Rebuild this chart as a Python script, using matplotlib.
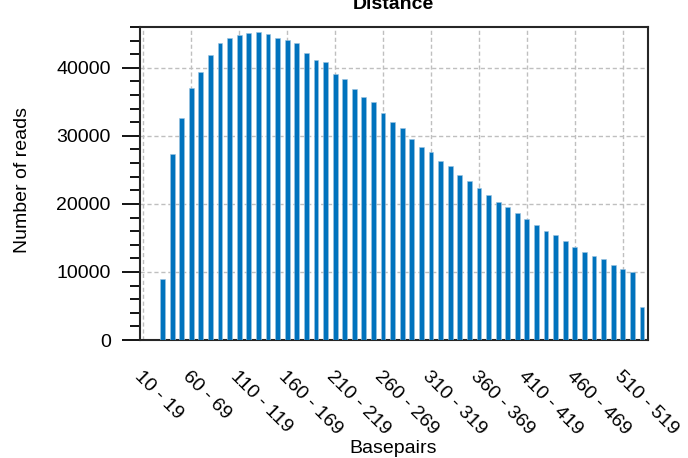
import matplotlib
matplotlib.use('Agg')
import matplotlib.pyplot as plt
from matplotlib.ticker import MultipleLocator

plt.rcParams['font.family'] = ['Liberation Sans', 'DejaVu Sans']

# fragment length bins (10 bp wide) and read counts per bin
bin_starts = list(range(10, 540, 10))
bin_labels = [f"{s} - {s + 9}" for s in bin_starts]
read_counts = [0, 0, 8900, 27300, 32700, 37000, 39400, 41900, 43600, 44400,
               44900, 45150, 45300, 45000, 44450, 44100, 43600, 42250, 41200, 40850,
               39100, 38400, 36850, 35650, 35000, 33400, 32050, 31200, 29550, 28400,
               27700, 26300, 25600, 24250, 23350, 22400, 21300, 20300, 19500, 18600,
               17800, 16950, 15950, 15450, 14600, 13700, 12900, 12350, 11850, 11050,
               10400, 10000, 4850]
label_step = 5

fig = plt.figure(figsize=(6.88, 4.58), dpi=100)
ax = fig.add_axes([0.2035, 0.2576, 0.7379, 0.6834])

x = list(range(len(read_counts)))
ax.bar(x, read_counts, width=0.5, color='#0072BD', edgecolor='#9cc3e0',
       linewidth=0.4, zorder=3)

ax.set_xlim(-0.35, 52.6)
ax.set_ylim(0, 46000)

# tick labels every 5th bin, slanted downwards
ax.set_xticks(x[::label_step])
ax.set_xticklabels(bin_labels[::label_step], rotation=-45, ha='left', va='top',
                   rotation_mode='anchor', fontsize=14)
ax.tick_params(axis='x', length=0, pad=20)

ax.yaxis.set_major_locator(MultipleLocator(10000))
ax.yaxis.set_minor_locator(MultipleLocator(2000))
ax.tick_params(axis='y', which='major', direction='out', length=13, width=1.3,
               pad=8, labelsize=14)
ax.tick_params(axis='y', which='minor', direction='out', length=7, width=1.3)

ax.grid(True, which='major', color='#bfbfbf', linestyle=(0, (3, 2)),
        linewidth=1.0, zorder=0)
ax.set_axisbelow(True)

for side in ['left', 'right', 'top', 'bottom']:
    ax.spines[side].set_linewidth(1.5)
    ax.spines[side].set_color('#262626')

ax.set_title('Distance', fontsize=14, fontweight='bold', pad=13)
fig.text(22.5 / 688, 1 - 180 / 458, 'Number of reads', rotation=90,
         ha='center', va='center', fontsize=14)
fig.text(393 / 688, 1 - 453 / 458, 'Basepairs', ha='center', va='baseline',
         fontsize=14)

fig.savefig('out.png', dpi=100)
